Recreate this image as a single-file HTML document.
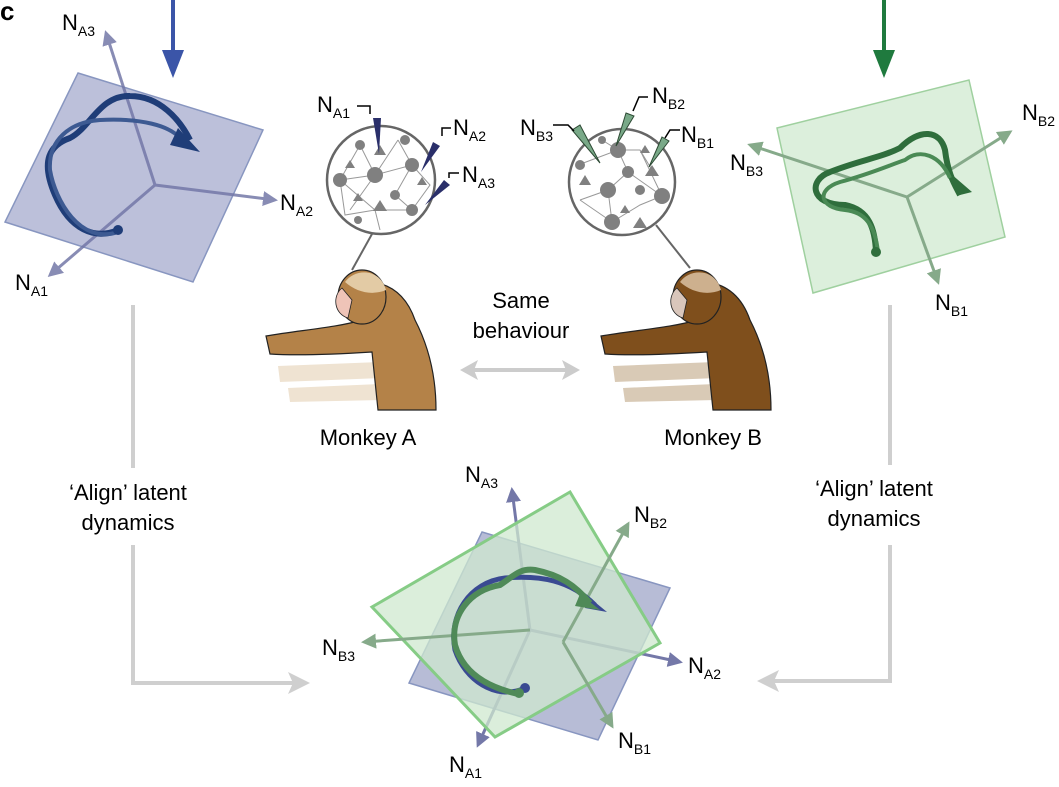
<!DOCTYPE html>
<html><head><meta charset="utf-8"><style>
html,body{margin:0;padding:0;background:#fff;}
svg{display:block;font-family:"Liberation Sans",sans-serif;}
</style></head><body>
<svg width="1059" height="787" viewBox="0 0 1059 787">
<defs>
<marker id="ab" viewBox="0 0 10 10" refX="8" refY="5" markerWidth="5" markerHeight="5" orient="auto"><path d="M0,0L10,5L0,10Z" fill="#7478a8"/></marker>
<marker id="ag" viewBox="0 0 10 10" refX="8" refY="5" markerWidth="5" markerHeight="5" orient="auto"><path d="M0,0L10,5L0,10Z" fill="#86aa8a"/></marker>
</defs>
<text x="0" y="20" font-size="26" font-weight="bold">c</text>

<g><line x1="173" y1="0" x2="173" y2="55" stroke="#3b55a8" stroke-width="4"/><path d="M162,50L184,50L173,78Z" fill="#3b55a8"/></g>
<g><line x1="884" y1="0" x2="884" y2="55" stroke="#1f7a3e" stroke-width="4"/><path d="M873,50L895,50L884,78Z" fill="#1f7a3e"/></g>

<g>
<path d="M78,73L263,130L193,282L5,222Z" fill="#bcc0da" stroke="#8896c0" stroke-width="1.5"/>
<g stroke="#7478a8" stroke-width="3" fill="none" opacity="0.85">
<line x1="155" y1="185" x2="106" y2="33" marker-end="url(#ab)"/>
<line x1="155" y1="185" x2="275" y2="200" marker-end="url(#ab)"/>
<line x1="155" y1="185" x2="50" y2="275" marker-end="url(#ab)"/>
</g>
<path d="M118,230C95,240 70,230 55,195C40,160 50,145 70,138C90,128 100,95 130,96C160,96 180,120 190,140" stroke="#1f3d78" stroke-width="6" fill="none"/>
<path d="M118,232C80,245 55,200 50,170C48,140 70,122 100,120C140,118 170,125 182,140" stroke="#3d5a92" stroke-width="4" fill="none"/>
<path d="M178,128L200,152L170,145Z" fill="#1f3d78"/>
<circle cx="118" cy="230" r="5" fill="#1f3d78"/>
</g>
<text x="62" y="30" font-size="22">N<tspan font-size="14" dy="6">A3</tspan></text>
<text x="280" y="210" font-size="22">N<tspan font-size="14" dy="6">A2</tspan></text>
<text x="15" y="290" font-size="22">N<tspan font-size="14" dy="6">A1</tspan></text>

<g>
<path d="M777,128L969,80L1005,237L813,293Z" fill="#dcefdc" stroke="#9fd09f" stroke-width="1.5"/>
<g stroke="#86aa8a" stroke-width="3" fill="none">
<line x1="907" y1="197" x2="1010" y2="132" marker-end="url(#ag)"/>
<line x1="907" y1="197" x2="750" y2="145" marker-end="url(#ag)"/>
<line x1="907" y1="197" x2="938" y2="282" marker-end="url(#ag)"/>
</g>
<path d="M876,252C875,230 870,210 845,205C810,205 808,180 830,172C860,160 880,158 900,148C920,128 940,130 945,150C948,175 955,185 960,195" stroke="#2f6e3c" stroke-width="6" fill="none"/>
<path d="M878,252C875,225 865,212 845,210C820,208 815,190 840,182C870,174 890,165 905,160C920,148 940,155 950,178" stroke="#4a8a55" stroke-width="4" fill="none"/>
<path d="M950,173L972,192L960,195Z" fill="#2f6e3c"/>
<circle cx="876" cy="252" r="5" fill="#2f6e3c"/>
</g>
<text x="1022" y="120" font-size="22">N<tspan font-size="14" dy="6">B2</tspan></text>
<text x="730" y="170" font-size="22">N<tspan font-size="14" dy="6">B3</tspan></text>
<text x="935" y="310" font-size="22">N<tspan font-size="14" dy="6">B1</tspan></text>

<g>
<line x1="372" y1="234" x2="352" y2="270" stroke="#666" stroke-width="2"/>
<circle cx="381" cy="180" r="54" fill="#fff" stroke="#666" stroke-width="2.5"/>
<g stroke="#999" stroke-width="1" fill="none"><path d="M340,180L375,175L412,165L395,195L412,210L375,210L340,180M360,145L375,175L398,140M375,210L380,230M350,210L375,175M398,140L412,165M340,180L345,215L375,210M412,165L430,185L412,210M360,145L340,180"/></g>
<g fill="#808080"><circle cx="340" cy="180" r="7"/><circle cx="375" cy="175" r="8"/><circle cx="360" cy="145" r="5"/><circle cx="405" cy="140" r="5"/><circle cx="412" cy="165" r="7"/><circle cx="395" cy="195" r="5"/><circle cx="412" cy="210" r="6"/><circle cx="358" cy="220" r="4"/><path d="M380,145l6,10h-12zM350,160l5,8h-10zM358,193l5,8h-10zM380,200l7,11h-14zM422,177l5,8h-10z"/></g>
<g fill="#2a2f6a"><path d="M373,118l8,0-2,36z"/><path d="M433,142l7,4-19,26z"/><path d="M444,180l6,5-25,20z"/></g>
<g stroke="#000" stroke-width="1.5" fill="none"><path d="M357,106h13v8M451,128h-9v8M459,173h-10v5"/></g>
</g>
<text x="317" y="112" font-size="22">N<tspan font-size="14" dy="6">A1</tspan></text>
<text x="453" y="135" font-size="22">N<tspan font-size="14" dy="6">A2</tspan></text>
<text x="462" y="182" font-size="22">N<tspan font-size="14" dy="6">A3</tspan></text>

<g>
<line x1="656" y1="225" x2="690" y2="268" stroke="#666" stroke-width="2"/>
<circle cx="622" cy="182" r="53" fill="#fff" stroke="#666" stroke-width="2.5"/>
<g stroke="#999" stroke-width="1" fill="none"><path d="M578,165L618,150L628,172L608,190L580,200M628,172L662,196L640,205L612,222M640,150L655,175M608,190L612,222M580,200L612,222M618,150L640,150L662,196M602,140L618,150"/></g>
<g fill="#808080"><circle cx="618" cy="150" r="8"/><circle cx="628" cy="172" r="6"/><circle cx="608" cy="190" r="8"/><circle cx="640" cy="190" r="5"/><circle cx="662" cy="196" r="8"/><circle cx="612" cy="222" r="8"/><circle cx="602" cy="140" r="4"/><circle cx="580" cy="165" r="5"/><path d="M585,175l6,10h-12zM645,145l5,8h-10zM625,205l5,8h-10zM640,217l7,11h-14zM652,165l7,11h-14z"/></g>
<g fill="#79a988" stroke="#2d4a34" stroke-width="1"><path d="M572,130l8,-5 20,38z"/><path d="M626,113l8,3-18,30z"/><path d="M662,137l7,4-20,26z"/></g>
<g stroke="#000" stroke-width="1.5" fill="none"><path d="M553,125h15l6,6M648,97h-9l-6,14M680,130h-10l-5,8"/></g>
</g>
<text x="520" y="135" font-size="22">N<tspan font-size="14" dy="6">B3</tspan></text>
<text x="652" y="103" font-size="22">N<tspan font-size="14" dy="6">B2</tspan></text>
<text x="681" y="142" font-size="22">N<tspan font-size="14" dy="6">B1</tspan></text>

<g>
<path d="M278,366L380,362L383,378L280,382Z M288,388L380,384L382,400L290,402Z" fill="#efe3d2"/>
<path d="M372,282C395,285 408,300 415,320C428,345 436,375 436,410L378,410C376,390 374,370 372,352C340,354 300,356 270,354L266,336C300,330 335,328 362,320C368,310 366,295 372,282Z" fill="#b48248" stroke="#222" stroke-width="1.2"/>
<ellipse cx="362" cy="297" rx="24" ry="27" fill="#b48248" stroke="#222" stroke-width="1.2"/>
<path d="M345,282C355,268 380,268 386,290C372,296 356,292 345,282Z" fill="#e3cba5"/>
<path d="M342,288C332,296 334,314 348,318L352,300Z" fill="#efc4b8" stroke="#222" stroke-width="0.8"/>
</g>
<g>
<path d="M613,366L715,362L718,378L615,382Z M623,388L715,384L717,400L625,402Z" fill="#d9cab6"/>
<path d="M707,282C730,285 743,300 750,320C763,345 771,375 771,410L713,410C711,390 709,370 707,352C675,354 635,356 605,354L601,336C635,330 670,328 697,320C703,310 701,295 707,282Z" fill="#7f4f1c" stroke="#222" stroke-width="1.2"/>
<ellipse cx="697" cy="297" rx="24" ry="27" fill="#7f4f1c" stroke="#222" stroke-width="1.2"/>
<path d="M680,282C690,268 715,268 721,290C707,296 691,292 680,282Z" fill="#cdb08e"/>
<path d="M677,288C667,296 669,314 683,318L687,300Z" fill="#d9c6bb" stroke="#222" stroke-width="0.8"/>
</g>

<text x="521" y="308" font-size="22" text-anchor="middle">Same</text>
<text x="521" y="338" font-size="22" text-anchor="middle">behaviour</text>
<g><line x1="470" y1="370" x2="568" y2="370" stroke="#cccccc" stroke-width="4"/><path d="M460,370L478,360L474,370L478,380Z M580,370L562,360L566,370L562,380Z" fill="#cccccc"/></g>
<text x="368" y="445" font-size="22" text-anchor="middle">Monkey A</text>
<text x="713" y="445" font-size="22" text-anchor="middle">Monkey B</text>

<g stroke="#cfcfcf" stroke-width="4" fill="none">
<path d="M133,305V468M133,545V683H295"/>
<path d="M890,305V465M890,545V681H772"/>
</g>
<path d="M310,683L288,672L293,683L288,694Z M757,681L779,670L774,681L779,692Z" fill="#cfcfcf"/>
<text x="128" y="500" font-size="22" text-anchor="middle">‘Align’ latent</text>
<text x="128" y="530" font-size="22" text-anchor="middle">dynamics</text>
<text x="874" y="496" font-size="22" text-anchor="middle">‘Align’ latent</text>
<text x="874" y="526" font-size="22" text-anchor="middle">dynamics</text>

<g>
<path d="M482,532L670,588L598,740L409,683Z" fill="#b7bcd6" stroke="#8896c0" stroke-width="1.5"/>
<g stroke="#7478a8" stroke-width="3"><line x1="530" y1="630" x2="512" y2="490" marker-end="url(#ab)"/><line x1="530" y1="630" x2="680" y2="662" marker-end="url(#ab)"/><line x1="530" y1="630" x2="478" y2="745" marker-end="url(#ab)"/></g>
<path d="M570,492L660,643L495,737L372,607Z" fill="#cfe8cf" fill-opacity="0.75" stroke="#86cc86" stroke-width="3"/>
<g stroke="#86aa8a" stroke-width="3"><line x1="563" y1="642" x2="628" y2="524" marker-end="url(#ag)"/><line x1="530" y1="630" x2="364" y2="642" marker-end="url(#ag)"/><line x1="563" y1="642" x2="612" y2="726" marker-end="url(#ag)"/></g>
<path d="M523,689C495,700 465,680 455,650C448,615 470,582 505,578C540,575 570,580 595,605" stroke="#3a4a92" stroke-width="5" fill="none"/>
<path d="M590,598L607,612L585,608Z" fill="#3a4a92"/>
<circle cx="525" cy="688" r="5" fill="#3a4a92"/>
<path d="M518,694C500,690 465,680 455,645C450,615 470,590 500,585C515,575 520,568 535,570C560,575 575,585 590,603" stroke="#4f8a58" stroke-width="6" fill="none"/>
<path d="M580,594L600,610L575,606Z" fill="#4f8a58"/>
<circle cx="519" cy="693" r="5" fill="#4f8a58"/>
</g>
<text x="465" y="482" font-size="22">N<tspan font-size="14" dy="6">A3</tspan></text>
<text x="634" y="522" font-size="22">N<tspan font-size="14" dy="6">B2</tspan></text>
<text x="322" y="655" font-size="22">N<tspan font-size="14" dy="6">B3</tspan></text>
<text x="688" y="673" font-size="22">N<tspan font-size="14" dy="6">A2</tspan></text>
<text x="618" y="748" font-size="22">N<tspan font-size="14" dy="6">B1</tspan></text>
<text x="449" y="772" font-size="22">N<tspan font-size="14" dy="6">A1</tspan></text>
</svg>
</body></html>
